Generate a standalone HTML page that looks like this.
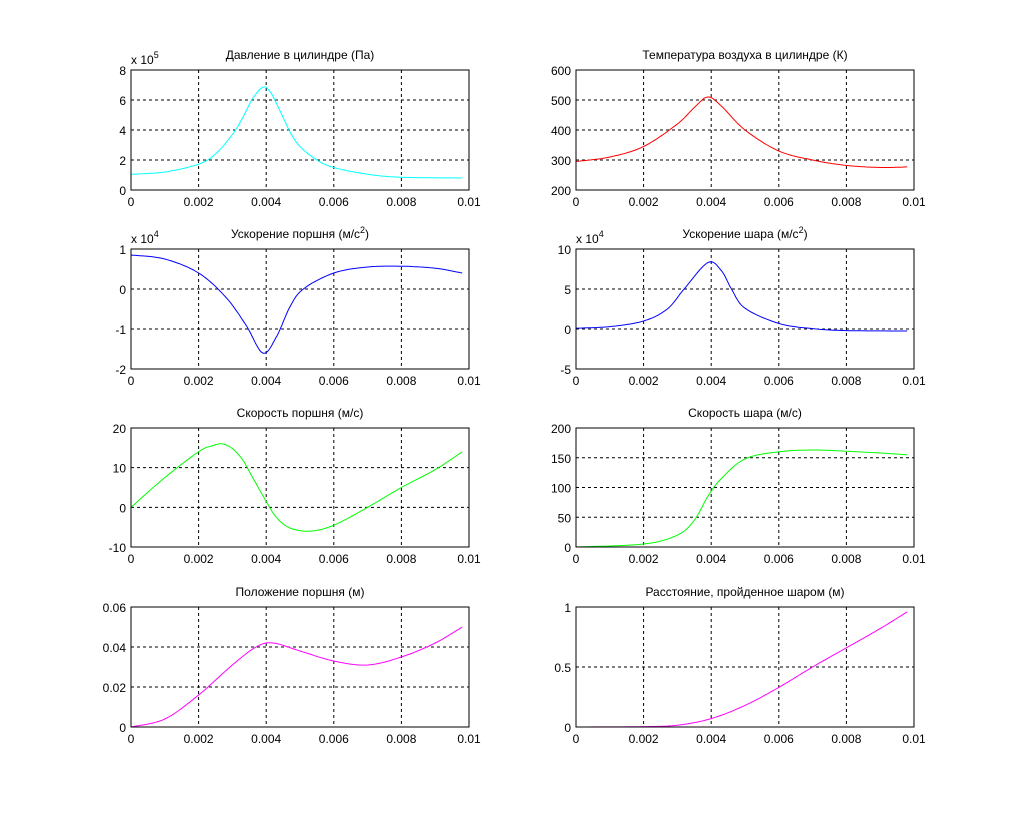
<!DOCTYPE html>
<html><head><meta charset="utf-8"><style>
html,body{margin:0;padding:0;background:#fff;}
svg{display:block;font-family:"Liberation Sans",Arial,sans-serif;}
</style></head><body>
<svg id="s" width="1010" height="816" xmlns="http://www.w3.org/2000/svg">
<rect width="1010" height="816" fill="#fff"/>
<g font-size="12" fill="#000" text-anchor="middle">
<text x="300" y="59">Давление в цилиндре (Па)</text>
<text x="745" y="59">Температура воздуха в цилиндре (К)</text>
<text x="300" y="238">Ускорение поршня (м/с<tspan font-size="9" dy="-5">2</tspan><tspan dy="5">)</tspan></text>
<text x="745" y="238">Ускорение шара (м/с<tspan font-size="9" dy="-5">2</tspan><tspan dy="5">)</tspan></text>
<text x="300" y="417">Скорость поршня (м/с)</text>
<text x="745" y="417">Скорость шара (м/с)</text>
<text x="300" y="596">Положение поршня (м)</text>
<text x="745" y="596">Расстояние, пройденное шаром (м)</text>
</g>
<g font-size="12" fill="#000">
<text x="131" y="64">x 10<tspan font-size="9" dy="-6">5</tspan></text>
<text x="131" y="243">x 10<tspan font-size="9" dy="-6">4</tspan></text>
<text x="576" y="243">x 10<tspan font-size="9" dy="-6">4</tspan></text>
</g>
<g id="plots"></g>
</svg>
<script>
var P=[
{x:131,y:70,w:338,h:120,y0:0,y1:8,yt:[0,2,4,6,8],c:"#00ffff",d:[[0,1.05],[0.001,1.2],[0.002,1.72],[0.0025,2.4],[0.003,3.7],[0.0033,4.8],[0.0036,6.1],[0.0039,6.85],[0.0041,6.6],[0.0043,5.8],[0.0047,3.9],[0.005,2.9],[0.0055,2.0],[0.006,1.5],[0.007,1.05],[0.008,0.85],[0.0098,0.8]]},
{x:576,y:70,w:338,h:120,y0:200,y1:600,yt:[200,300,400,500,600],c:"#ff0000",d:[[0,295],[0.001,310],[0.002,345],[0.003,420],[0.0035,475],[0.0039,510],[0.0043,480],[0.005,400],[0.006,330],[0.007,300],[0.008,282],[0.009,275],[0.0098,277]]},
{x:131,y:249,w:338,h:120,y0:-2,y1:1,yt:[-2,-1,0,1],c:"#0000ff",d:[[0,0.85],[0.001,0.75],[0.002,0.4],[0.0028,-0.2],[0.0034,-0.9],[0.0039,-1.6],[0.0043,-1.2],[0.0047,-0.45],[0.0051,0],[0.006,0.4],[0.007,0.55],[0.008,0.57],[0.009,0.52],[0.0098,0.4]]},
{x:576,y:249,w:338,h:120,y0:-5,y1:10,yt:[-5,0,5,10],c:"#0000ff",d:[[0,0.1],[0.001,0.3],[0.002,1],[0.0027,2.5],[0.0032,5],[0.0039,8.3],[0.0043,7.3],[0.0046,5],[0.005,2.6],[0.006,0.7],[0.007,0.05],[0.008,-0.2],[0.0098,-0.25]]},
{x:131,y:428,w:338,h:119,y0:-10,y1:20,yt:[-10,0,10,20],c:"#00ff00",d:[[0,0],[0.001,7.5],[0.002,14],[0.0024,15.5],[0.0027,16],[0.003,14.8],[0.0033,12],[0.0036,7.5],[0.004,1.5],[0.0043,-2.5],[0.0047,-5.2],[0.0053,-6],[0.006,-4.5],[0.007,0],[0.008,5],[0.009,9.5],[0.0098,14]]},
{x:576,y:428,w:338,h:119,y0:0,y1:200,yt:[0,50,100,150,200],c:"#00ff00",d:[[0,0],[0.002,5],[0.003,20],[0.0035,45],[0.0039,85],[0.0043,115],[0.005,148],[0.006,160],[0.007,163],[0.008,161],[0.009,158],[0.0098,155]]},
{x:131,y:607,w:338,h:120,y0:0,y1:0.06,yt:[0,0.02,0.04,0.06],c:"#ff00ff",d:[[0,0],[0.001,0.004],[0.002,0.016],[0.003,0.031],[0.0037,0.040],[0.0042,0.042],[0.005,0.038],[0.006,0.033],[0.007,0.031],[0.008,0.035],[0.009,0.042],[0.0098,0.05]]},
{x:576,y:607,w:338,h:120,y0:0,y1:1,yt:[0,0.5,1],c:"#ff00ff",d:[[0,0],[0.002,0.003],[0.003,0.015],[0.004,0.07],[0.005,0.18],[0.006,0.33],[0.007,0.5],[0.008,0.66],[0.009,0.82],[0.0098,0.96]]}
];
var g=document.getElementById("plots"),h="";
P.forEach(function(p){
 function X(t){return p.x+t/0.01*p.w;}
 function Y(v){return p.y+p.h-(v-p.y0)/(p.y1-p.y0)*p.h;}
 var xt=[0,0.002,0.004,0.006,0.008,0.01];
 xt.forEach(function(t,i){var x=X(t);
  if(i>0&&i<5)h+='<line x1="'+x+'" y1="'+p.y+'" x2="'+x+'" y2="'+(p.y+p.h)+'" stroke="#000" stroke-dasharray="3,3" stroke-width="1"/>';
  h+='<text x="'+x+'" y="'+(p.y+p.h+16)+'" font-size="12" text-anchor="middle">'+(t===0?'0':t)+'</text>';});
 p.yt.forEach(function(v,i){var y=Y(v);
  if(i>0&&i<p.yt.length-1)h+='<line x1="'+p.x+'" y1="'+y+'" x2="'+(p.x+p.w)+'" y2="'+y+'" stroke="#000" stroke-dasharray="3,3" stroke-width="1"/>';
  h+='<text x="'+(p.x-5)+'" y="'+(y+5)+'" font-size="12" text-anchor="end">'+v+'</text>';});
 var d=p.d,pts=[];
 for(var i=0;i<d.length-1;i++){var p0=d[Math.max(0,i-1)],p1=d[i],p2=d[i+1],p3=d[Math.min(d.length-1,i+2)];
  for(var k=0;k<12;k++){var s=k/12,s2=s*s,s3=s2*s;
   var f=function(a,b,c,e){return 0.5*(2*b+(-a+c)*s+(2*a-5*b+4*c-e)*s2+(-a+3*b-3*c+e)*s3);};
   pts.push(X(f(p0[0],p1[0],p2[0],p3[0])).toFixed(1)+','+Y(f(p0[1],p1[1],p2[1],p3[1])).toFixed(1));}}
 var L=d[d.length-1];pts.push(X(L[0]).toFixed(1)+','+Y(L[1]).toFixed(1));
 h+='<polyline fill="none" stroke="'+p.c+'" stroke-width="1" points="'+pts.join(' ')+'"/>';
 h+='<rect x="'+p.x+'" y="'+p.y+'" width="'+p.w+'" height="'+p.h+'" fill="none" stroke="#000" stroke-width="1"/>';
});
g.innerHTML=h;
</script>
</body></html>
